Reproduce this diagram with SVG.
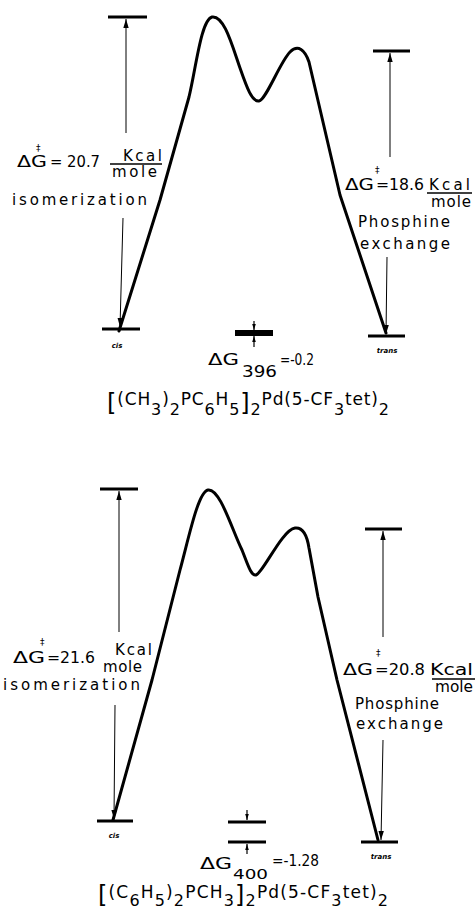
<svg xmlns="http://www.w3.org/2000/svg" width="475" height="912" viewBox="0 0 475 912">
<style>
.bg{fill:#fff}
.lvl{stroke:#000;stroke-width:3.2;fill:none;stroke-linecap:butt}
.eq{stroke:#000;stroke-width:6;fill:none}
.eq2{stroke:#000;stroke-width:3;fill:none}
.curve{stroke:#000;stroke-width:3;fill:none;stroke-linejoin:round;stroke-linecap:round}
.arr{stroke:#000;stroke-width:1;fill:none;marker-end:url(#ah)}
.sarr{stroke:#000;stroke-width:1.2;fill:none;marker-end:url(#sah)}
.bar{stroke:#000;stroke-width:1.3}
text{font-family:"DejaVu Sans","Liberation Sans",sans-serif;fill:#000}
.t{font-size:15px}
.g{font-size:15px}
.n{font-size:14px}
.v{font-size:16px}
.dag{font-size:9px}
.f{font-size:17px}
.s{font-size:16px}
.br{font-size:24px}
.st{font-size:7px;font-style:italic;font-weight:bold}
</style>
<defs>
<marker id="ah" viewBox="0 0 10 6" refX="10" refY="3" markerWidth="9" markerHeight="6" markerUnits="userSpaceOnUse" orient="auto">
<path d="M0,0 L10,3 L0,6 z" fill="#000"/>
</marker>
<marker id="sah" viewBox="0 0 10 6" refX="10" refY="3" markerWidth="6" markerHeight="4" markerUnits="userSpaceOnUse" orient="auto">
<path d="M0,0 L10,3 L0,6 z" fill="#000"/>
</marker>
</defs>
<rect class="bg" x="0" y="0" width="475" height="912"/>

<!-- ===== Top diagram ===== -->
<g id="top-ts-isomerization"><line class="lvl" x1="108" y1="17" x2="147" y2="17"/></g>
<g id="top-ts-exchange"><line class="lvl" x1="373" y1="51" x2="410" y2="51"/></g>
<g id="top-cis"><line class="lvl" x1="102" y1="329" x2="140" y2="329"/><text class="st" x="117" y="348" text-anchor="middle">cis</text></g>
<g id="top-trans"><line class="lvl" x1="368" y1="336" x2="405" y2="336"/><text class="st" x="387" y="353" text-anchor="middle">trans</text></g>
<g id="top-equilibrium"><line class="eq" x1="235" y1="333" x2="273" y2="333"/></g>

<g id="top-connectors">
<path class="curve" d="M119,331 L160,200 L189,97 C196,68 201,20 212,17 C224,15 232,45 240,68 C247,88 252,102 259,101 C266,100 280,62 290,52 C298,44 305,50 309,62 L340,195 L386,333"/>
<line class="arr" x1="126" y1="133" x2="126" y2="19"/>
<line class="arr" x1="123" y1="218" x2="120" y2="327"/>
<line class="arr" x1="390" y1="157" x2="390" y2="53"/>
<line class="arr" x1="387" y1="257" x2="386" y2="334"/>
<line class="sarr" x1="254" y1="321" x2="254" y2="330"/>
<line class="sarr" x1="254" y1="347" x2="254" y2="336"/>
</g>

<g id="top-label-isomerization">
<text class="g" x="17" y="167" textLength="30" lengthAdjust="spacingAndGlyphs">ΔG</text>
<text class="dag" x="36" y="151">‡</text>
<text class="g" x="50" y="167" textLength="50" lengthAdjust="spacingAndGlyphs">= 20.7</text>
<text class="t" x="123" y="161" textLength="39">Kcal</text>
<line class="bar" x1="110" y1="164" x2="162" y2="164"/>
<text class="t" x="112" y="177" textLength="45">mole</text>
<text class="t" x="12" y="205" textLength="135">isomerization</text>
</g>

<g id="top-label-exchange">
<text class="g" x="345" y="190" textLength="29" lengthAdjust="spacingAndGlyphs">ΔG</text>
<text class="dag" x="375" y="173">‡</text>
<text class="g" x="376" y="190" textLength="48" lengthAdjust="spacingAndGlyphs">=18.6</text>
<text class="t" x="429" y="190" textLength="41">Kcal</text>
<line class="bar" x1="427" y1="193" x2="472" y2="193"/>
<text class="t" x="431" y="207" textLength="40">mole</text>
<text class="t" x="358" y="227" textLength="92">Phosphine</text>
<text class="t" x="360" y="249" textLength="90">exchange</text>
</g>

<g id="top-label-equilibrium">
<text class="g" x="208" y="365" textLength="31" lengthAdjust="spacingAndGlyphs">ΔG</text>
<text class="g" x="242" y="377" textLength="35" lengthAdjust="spacingAndGlyphs">396</text>
<text class="v" x="280" y="365" textLength="34" lengthAdjust="spacingAndGlyphs">=-0.2</text>
</g>

<g id="top-formula">
<text class="f" x="107" y="405" textLength="282"><tspan class="br" dy="6">[</tspan><tspan dy="-6">(CH</tspan><tspan class="s" dy="10">3</tspan><tspan dy="-10">)</tspan><tspan class="s" dy="10">2</tspan><tspan dy="-10">PC</tspan><tspan class="s" dy="10">6</tspan><tspan dy="-10">H</tspan><tspan class="s" dy="10">5</tspan><tspan class="br" dy="-4">]</tspan><tspan class="s" dy="4">2</tspan><tspan dy="-10">Pd(5-CF</tspan><tspan class="s" dy="10">3</tspan><tspan dy="-10">tet)</tspan><tspan class="s" dy="10">2</tspan></text>
</g>

<!-- ===== Bottom diagram ===== -->
<g id="bottom-ts-isomerization"><line class="lvl" x1="100" y1="489" x2="138" y2="489"/></g>
<g id="bottom-ts-exchange"><line class="lvl" x1="365" y1="529" x2="402" y2="529"/></g>
<g id="bottom-cis"><line class="lvl" x1="97" y1="821" x2="133" y2="821"/><text class="st" x="114" y="838" text-anchor="middle">cis</text></g>
<g id="bottom-trans"><line class="lvl" x1="361" y1="842" x2="398" y2="842"/><text class="st" x="381" y="859" text-anchor="middle">trans</text></g>
<g id="bottom-equilibrium">
<line class="eq2" x1="228" y1="822" x2="266" y2="822"/>
<line class="eq2" x1="228" y1="842" x2="266" y2="842"/>
</g>

<g id="bottom-connectors">
<path class="curve" d="M113,820 L152,680 L180,570 C189,537 198,492 208,490 C220,488 232,530 242,550 C248,565 251,576 256,575 C263,573 282,530 295,528 C303,527 307,535 309,548 L318,597 L337,680 L378,840"/>
<line class="arr" x1="119" y1="632" x2="119" y2="491"/>
<line class="arr" x1="115" y1="705" x2="114" y2="819"/>
<line class="arr" x1="383" y1="637" x2="383" y2="531"/>
<line class="arr" x1="383" y1="740" x2="381" y2="840"/>
<line class="sarr" x1="247" y1="810" x2="247" y2="820"/>
<line class="sarr" x1="247" y1="854" x2="247" y2="844"/>
</g>

<g id="bottom-label-isomerization">
<text class="g" x="13" y="663" textLength="32" lengthAdjust="spacingAndGlyphs">ΔG</text>
<text class="dag" x="40" y="645">‡</text>
<text class="g" x="47" y="663" textLength="48" lengthAdjust="spacingAndGlyphs">=21.6</text>
<text class="t" x="115" y="655" textLength="37">Kcal</text>
<text class="t" x="103" y="672" textLength="39">mole</text>
<text class="t" x="3" y="690" textLength="137">isomerization</text>
</g>

<g id="bottom-label-exchange">
<text class="g" x="343" y="675" textLength="30" lengthAdjust="spacingAndGlyphs">ΔG</text>
<text class="dag" x="376" y="656">‡</text>
<text class="g" x="375" y="675" textLength="50" lengthAdjust="spacingAndGlyphs">=20.8</text>
<text class="t" x="430" y="675" textLength="43" lengthAdjust="spacingAndGlyphs">Kcal</text>
<line class="bar" x1="432" y1="679" x2="475" y2="679"/>
<text class="t" x="435" y="692" textLength="38" lengthAdjust="spacingAndGlyphs">mole</text>
<text class="t" x="355" y="709" textLength="84">Phosphine</text>
<text class="t" x="356" y="729" textLength="87">exchange</text>
</g>

<g id="bottom-label-equilibrium">
<text class="g" x="200" y="869" textLength="32" lengthAdjust="spacingAndGlyphs">ΔG</text>
<text class="n" x="233" y="879" textLength="35" lengthAdjust="spacingAndGlyphs">400</text>
<text class="v" x="272" y="866" textLength="47" lengthAdjust="spacingAndGlyphs">=-1.28</text>
</g>

<g id="bottom-formula">
<text class="f" x="98" y="898" textLength="290"><tspan class="br" dy="5">[</tspan><tspan dy="-5">(C</tspan><tspan class="s" dy="8">6</tspan><tspan dy="-8">H</tspan><tspan class="s" dy="8">5</tspan><tspan dy="-8">)</tspan><tspan class="s" dy="8">2</tspan><tspan dy="-8">PCH</tspan><tspan class="s" dy="8">3</tspan><tspan class="br" dy="-3">]</tspan><tspan class="s" dy="3">2</tspan><tspan dy="-8">Pd(5-CF</tspan><tspan class="s" dy="8">3</tspan><tspan dy="-8">tet)</tspan><tspan class="s" dy="8">2</tspan></text>
</g>
</svg>
